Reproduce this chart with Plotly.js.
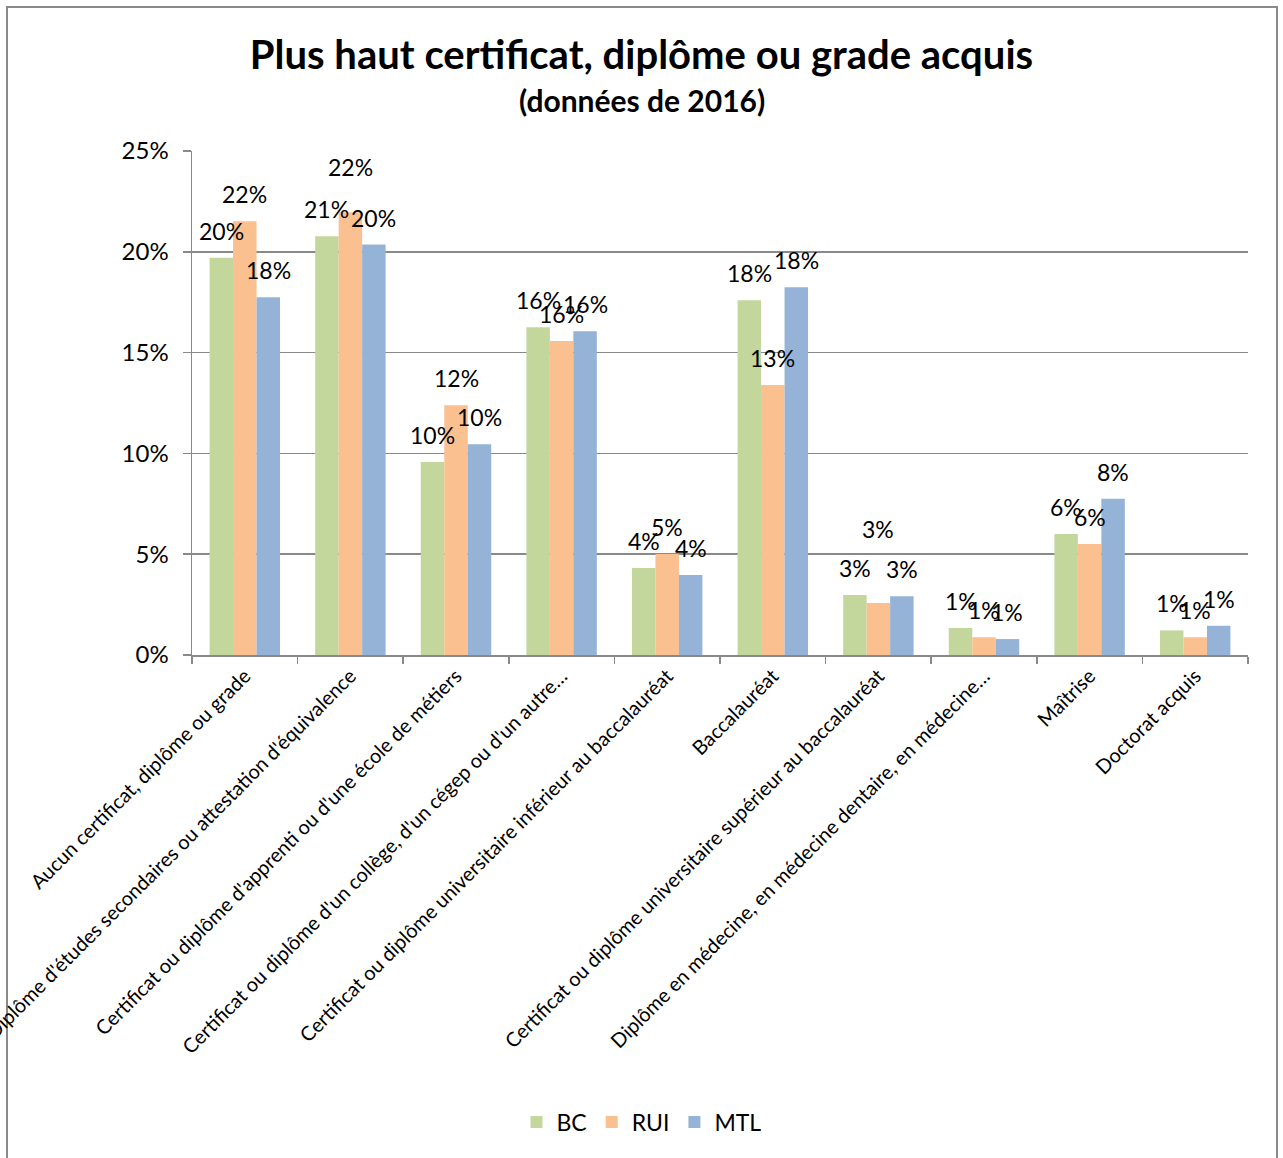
<!DOCTYPE html>
<html>
<head>
<meta charset="utf-8">
<script src="https://cdn.plot.ly/plotly-3.0.1.min.js"></script>
<style>
  html, body { margin: 0; padding: 0; background: #ffffff; }
  #chart { width: 1283px; height: 1158px; }
</style>
</head>
<body>
<div id="chart"></div>
<script>
// ---- data ----
const categories = [
  "Aucun certificat, diplôme ou grade",
  "Diplôme d'études secondaires ou attestation d'équivalence",
  "Certificat ou diplôme d'apprenti ou d'une école de métiers",
  "Certificat ou diplôme d'un collège, d'un cégep ou d'un autre…",
  "Certificat ou diplôme universitaire inférieur au baccalauréat",
  "Baccalauréat",
  "Certificat ou diplôme universitaire supérieur au baccalauréat",
  "Diplôme en médecine, en médecine dentaire, en médecine…",
  "Maîtrise",
  "Doctorat acquis"
];
const seriesNames = ["BC", "RUI", "MTL"];
const bcValues  = [19.70, 20.77, 9.57, 16.26, 4.31, 17.60, 2.97, 1.34, 6.00, 1.22];
const ruiValues = [21.52, 21.96, 12.39, 15.57, 5.01, 13.39, 2.58, 0.88, 5.50, 0.88];
const mtlValues = [17.75, 20.36, 10.46, 16.06, 3.97, 18.24, 2.92, 0.79, 7.75, 1.45];
const yTickValues = [0, 5, 10, 15, 20, 25];

// ---- style ----
const colors = ["#C3D69B", "#FAC090", "#95B3D7"];
const labelLiftPx = [
  [0, 0, 0, 0, 0, 0, 0, 0, 0, 0],
  [0, 18, 0, 0, 0, 0, 47, 0, 0, 0],
  [0, 0, 0, 0, 0, 0, 0, 0, 0, 0]
];
const W = 1283, H = 1158;
const M = { l: 192, r: 35, t: 151, b: 503 };
const PW = W - M.l - M.r, PH = H - M.t - M.b;
const BARGAP = 0.333;
const FONT = "Lato, 'Open Sans', sans-serif";
const GRID = "#898989";

const seriesValues = [bcValues, ruiValues, mtlValues];

const traces = seriesValues.map((vals, i) => ({
  type: "bar",
  name: seriesNames[i],
  x: categories,
  y: vals,
  marker: { color: colors[i], line: { width: 0 } },
  hoverinfo: "skip"
}));

// data labels as annotations centred above each bar
const barWidthPx = (PW / categories.length) * (1 - BARGAP) / seriesValues.length;
const annotations = [];
seriesValues.forEach((vals, i) => {
  vals.forEach((v, j) => {
    annotations.push({
      x: categories[j], y: v, xref: "x", yref: "y",
      text: Math.round(v) + "%",
      showarrow: false,
      xshift: (i - 1) * barWidthPx,
      yshift: 27 + labelLiftPx[i][j],
      yanchor: "middle", xanchor: "center",
      font: { family: FONT, size: 23, color: "#000000" }
    });
  });
});

// subtitle
const pxToPaperX = px => (px - M.l) / PW;
const pxToPaperY = py => (H - M.b - py) / PH;
annotations.push({
  xref: "paper", yref: "paper",
  x: pxToPaperX(W / 2), y: pxToPaperY(100),
  text: "(données de 2016)",
  showarrow: false, xanchor: "center", yanchor: "middle",
  font: { family: FONT, size: 30, color: "#000000", weight: "bold" }
});

const layout = {
  width: W, height: H,
  margin: M,
  paper_bgcolor: "#ffffff",
  plot_bgcolor: "#ffffff",
  font: { family: FONT, size: 21, color: "#000000" },
  title: {
    text: "Plus haut certificat, diplôme ou grade acquis",
    font: { family: FONT, size: 40, color: "#000000", weight: "bold" },
    x: 0.5, xref: "container", xanchor: "center",
    y: 1 - 55 / H, yref: "container", yanchor: "middle"
  },
  barmode: "group",
  bargap: BARGAP,
  bargroupgap: 0,
  xaxis: {
    type: "category",
    automargin: false,
    tickangle: -45,
    tickson: "boundaries",
    ticks: "outside", ticklen: 7, tickwidth: 1.5, tickcolor: GRID,
    showline: true, linecolor: GRID, linewidth: 1.5,
    showgrid: false,
    tickfont: { family: FONT, size: 20, color: "#000000" }
  },
  yaxis: {
    range: [0, 25],
    tickvals: yTickValues,
    ticktext: yTickValues.map(v => v + "%"),
    automargin: false,
    ticks: "outside", ticklen: 8, tickwidth: 1.5, tickcolor: GRID,
    showline: true, linecolor: GRID, linewidth: 1.5,
    showgrid: true, gridcolor: GRID, gridwidth: 1.5,
    zeroline: false,
    ticklabelstandoff: 9,
    tickfont: { family: FONT, size: 24, color: "#000000" }
  },
  legend: {
    orientation: "h",
    xref: "container", yref: "container",
    x: 0.5, xanchor: "center",
    y: 1 - 1122 / H, yanchor: "middle",
    font: { family: FONT, size: 23, color: "#000000" },
    itemwidth: 30,
    bgcolor: "rgba(0,0,0,0)"
  },
  annotations: annotations,
  shapes: [{
    type: "rect", xref: "paper", yref: "paper",
    x0: pxToPaperX(7), x1: pxToPaperX(1277),
    y0: pxToPaperY(1175), y1: pxToPaperY(7),
    line: { color: "#8a8a8a", width: 2 },
    fillcolor: "rgba(0,0,0,0)",
    layer: "below"
  }]
};

Plotly.newPlot("chart", traces, layout, { staticPlot: true, displayModeBar: false });
</script>
</body>
</html>
